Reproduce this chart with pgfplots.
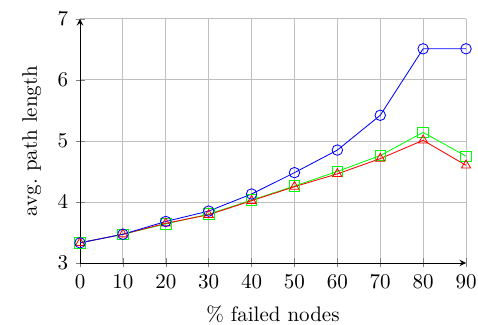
\documentclass[border=0pt]{standalone}
\usepackage{pgfplots}
\pgfplotsset{compat=1.18}
\begin{document}
\begin{tikzpicture}
\begin{axis}[
  name=ax,
  scale only axis,
  width=183.8pt, height=116.2pt,
  axis lines=left,
  grid=major,
  xmin=0, xmax=90, ymin=3, ymax=7,
  xtick={0,10,...,90},
  ytick={3,4,5,6,7},
  xlabel={\% failed nodes},
  ylabel={avg.\ path length},
  xlabel style={yshift=-1.5pt},
  ylabel style={yshift=1pt},
  mark size=2.5pt,
]
\addplot[green, mark=square] coordinates {(0,3.33) (10,3.47) (20,3.64) (30,3.80) (40,4.03) (50,4.26) (60,4.50) (70,4.76) (80,5.14) (90,4.75)};
\addplot[red, mark=triangle] coordinates {(0,3.33) (10,3.47) (20,3.65) (30,3.79) (40,4.02) (50,4.25) (60,4.46) (70,4.71) (80,5.01) (90,4.60)};
\addplot[blue, mark=o] coordinates {(0,3.33) (10,3.47) (20,3.68) (30,3.85) (40,4.13) (50,4.48) (60,4.85) (70,5.42) (80,6.51) (90,6.51)};
\end{axis}
\pgfresetboundingbox
\path ([xshift=-38.1pt,yshift=-29.5pt]ax.south west) rectangle ([xshift=5.7pt,yshift=9pt]ax.north east);
\end{tikzpicture}
\end{document}
